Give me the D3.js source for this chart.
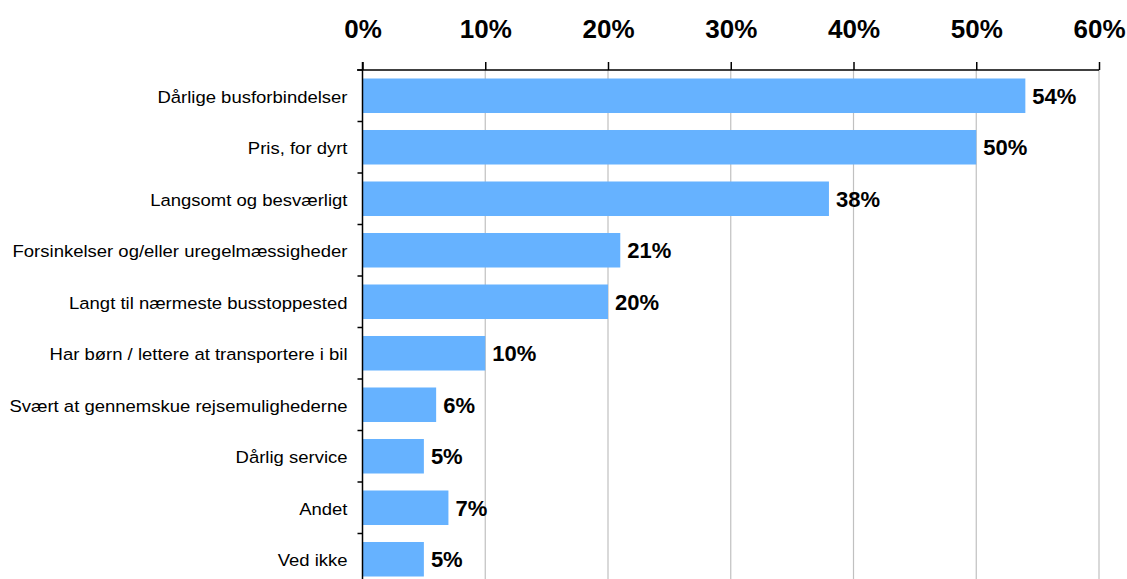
<!DOCTYPE html>
<html><head><meta charset="utf-8">
<script src="https://cdn.jsdelivr.net/npm/d3@7/dist/d3.min.js"></script>
<style>body{margin:0;background:#fff}svg{display:block}</style>
</head><body>
<script>
const categories = ["Dårlige busforbindelser","Pris, for dyrt","Langsomt og besværligt","Forsinkelser og/eller uregelmæssigheder","Langt til nærmeste busstoppested","Har børn / lettere at transportere i bil","Svært at gennemskue rejsemulighederne","Dårlig service","Andet","Ved ikke"];
const values = [54,50,38,21,20,10,6,5,7,5];
const tickValues = [0,10,20,30,40,50,60];

const W=1127,H=579;
const svg=d3.select("body").append("svg").attr("width",W).attr("height",H);
const font="Liberation Sans, Arial, sans-serif";
const x=d3.scaleLinear().domain([0,60]).range([362.5,1099]);
const y=d3.scaleBand().domain(categories).range([70,585]).paddingInner(0.33).paddingOuter(0.165);
const axisY=70;

// gridlines
svg.append("g").selectAll("line").data(tickValues.slice(1)).join("line")
  .attr("x1",d=>x(d)).attr("x2",d=>x(d)).attr("y1",axisY).attr("y2",H)
  .attr("stroke","#c0c0c0").attr("stroke-width",1.2);

// bars
svg.append("g").selectAll("rect").data(values).join("rect")
  .attr("x",x(0)).attr("y",(d,i)=>y(categories[i]))
  .attr("width",d=>x(d)-x(0)).attr("height",y.bandwidth())
  .attr("fill","#66B2FF");

// value labels
svg.append("g").selectAll("text").data(values).join("text")
  .attr("x",d=>x(d)+7).attr("y",(d,i)=>y(categories[i])+y.bandwidth()/2)
  .attr("dy","0.36em").attr("font-family",font).attr("font-weight","bold")
  .attr("font-size",22).attr("fill","#000").text(d=>d+"%");

// top axis
const xa=svg.append("g").attr("transform",`translate(0,${axisY})`)
  .call(d3.axisTop(x).tickValues(tickValues).tickFormat(d=>d+"%").tickSize(8).tickPadding(24));
xa.select(".domain").remove();
xa.selectAll("line").attr("stroke","#000").attr("stroke-width",1.5);
xa.selectAll("text").attr("font-family",font).attr("font-weight","bold").attr("font-size",26).attr("fill","#000");
svg.append("line").attr("x1",357).attr("x2",x(60)).attr("y1",axisY).attr("y2",axisY).attr("stroke","#000").attr("stroke-width",1.5);

// left axis
const step=y.step();
const sx=1.135;
const ya=svg.append("g").attr("transform",`translate(${x(0)},0)`)
  .call(d3.axisLeft(y).tickSize(0).tickPadding(15));
ya.select(".domain").remove();
ya.selectAll("text").attr("font-family",font).attr("font-size",16.3).attr("fill","#000")
  .attr("x",-15/sx).attr("dy","0.42em").attr("transform",`scale(${sx},1)`);
svg.append("line").attr("x1",x(0)).attr("x2",x(0)).attr("y1",axisY-8).attr("y2",H).attr("stroke","#000").attr("stroke-width",1.5);
// band boundary ticks
svg.append("g").selectAll("line").data(d3.range(categories.length+1)).join("line")
  .attr("x1",x(0)-5).attr("x2",x(0)).attr("y1",i=>axisY+i*step).attr("y2",i=>axisY+i*step)
  .attr("stroke","#000").attr("stroke-width",1.5);
</script>
</body></html>
